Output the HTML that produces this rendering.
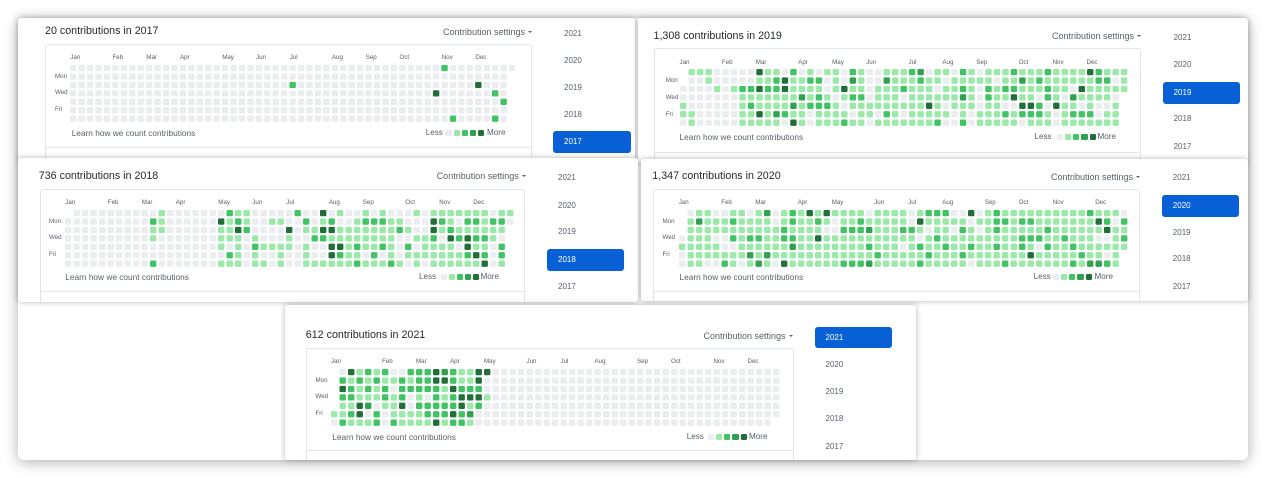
<!DOCTYPE html>
<html><head><meta charset="utf-8">
<style>
*{margin:0;padding:0;box-sizing:border-box}
html{width:1266px;height:478px;overflow:hidden}
body{width:1266px;height:478px;background:#fff;position:relative;overflow:hidden;font-family:"Liberation Sans",Arial,sans-serif}
.cv{position:absolute;left:18px;top:18px;width:1230px;height:442px;background:#fff;border-radius:6px;box-shadow:0 2px 14px rgba(0,0,0,.32)}
.p{position:absolute;background:#fff;border-radius:3px;box-shadow:0 0 6px rgba(0,0,0,.3);overflow:hidden}
.p div,.p svg{position:absolute}
.t{font-size:10.7px;line-height:12px;color:#24292e;white-space:nowrap}
.cs{font-size:9px;line-height:12px;color:#586069;white-space:nowrap}
.cs i{position:absolute;display:block;right:-7px;top:5px;width:0;height:0;border-left:2.2px solid transparent;border-right:2.2px solid transparent;border-top:2.6px solid #586069}
.bx{border:1px solid #e1e4e8;border-radius:3px}
.dv{left:0;right:0;height:1px;background:#e1e4e8}
.m,.d{font-size:6.2px;line-height:12px;color:#586069;white-space:nowrap}
.lr{font-size:8.3px;line-height:12px;color:#586069;white-space:nowrap}
.ls{font-size:8.1px;line-height:12px;color:#586069;white-space:nowrap}
.sq{width:6.3px;height:6.3px;border-radius:1.2px}
.c0{background:#ebedf0}.c1{background:#9be9a8}.c2{background:#40c463}.c3{background:#30a14e}.c4{background:#216e39}
.y{font-size:8px;line-height:12px;color:#586069;white-space:nowrap}
.b{background:#0860d6;border-radius:3px}
.yw{color:#fff}
</style></head><body>
<div class="cv"></div>

<!-- 2017 -->
<div class="p" style="left:18px;top:18px;width:617px;height:145px">
<div class="t" style="left:27px;top:7px">20 contributions in 2017</div>
<div class="cs" style="left:425px;top:7.7px">Contribution settings<i></i></div>
<div class="bx" style="left:27px;top:26.3px;width:486.7px;height:130px"><div class="dv" style="top:101.4px"></div></div>
<div class="m" style="left:52.3px;top:34.3px">Jan</div>
<div class="m" style="left:94.5px;top:34.3px">Feb</div>
<div class="m" style="left:128.3px;top:34.3px">Mar</div>
<div class="m" style="left:162px;top:34.3px">Apr</div>
<div class="m" style="left:204.2px;top:34.3px">May</div>
<div class="m" style="left:238px;top:34.3px">Jun</div>
<div class="m" style="left:271.7px;top:34.3px">Jul</div>
<div class="m" style="left:313.9px;top:34.3px">Aug</div>
<div class="m" style="left:347.7px;top:34.3px">Sep</div>
<div class="m" style="left:381.5px;top:34.3px">Oct</div>
<div class="m" style="left:423.7px;top:34.3px">Nov</div>
<div class="m" style="left:457.4px;top:34.3px">Dec</div>
<div class="d" style="left:37px;top:52.6px">Mon</div>
<div class="d" style="left:37px;top:69.4px">Wed</div>
<div class="d" style="left:37px;top:86.3px">Fri</div>
<svg id="g17" style="left:52.3px;top:47px" width="452" height="60"></svg>
<div class="lr" style="left:53.7px;top:108.7px">Learn how we count contributions</div>
<div class="ls" style="left:407.7px;top:108.7px">Less</div>
<div class="sq c0" style="left:427.3px;top:111.5px"></div>
<div class="sq c1" style="left:435.5px;top:111.5px"></div>
<div class="sq c2" style="left:443.7px;top:111.5px"></div>
<div class="sq c3" style="left:451.9px;top:111.5px"></div>
<div class="sq c4" style="left:460.1px;top:111.5px"></div>
<div class="ls" style="left:469px;top:108.7px">More</div>
<div class="y" style="left:546px;top:10px">2021</div>
<div class="y" style="left:546px;top:37px">2020</div>
<div class="y" style="left:546px;top:63.7px">2019</div>
<div class="y" style="left:546px;top:90.7px">2018</div>
<div class="b" style="left:535.3px;top:113px;width:77.4px;height:22.3px"></div>
<div class="y yw" style="left:546px;top:118px">2017</div>
</div>

<!-- 2019 -->
<div class="p" style="left:637.5px;top:18px;width:610px;height:145px">
<div class="t" style="left:16px;top:11.7px">1,308 contributions in 2019</div>
<div class="cs" style="left:414.5px;top:12px">Contribution settings<i></i></div>
<div class="bx" style="left:16px;top:30.3px;width:487.5px;height:130px"><div class="dv" style="top:102.4px"></div></div>
<div class="m" style="left:42px;top:38.7px">Jan</div>
<div class="m" style="left:84.4px;top:38.7px">Feb</div>
<div class="m" style="left:118.3px;top:38.7px">Mar</div>
<div class="m" style="left:160.7px;top:38.7px">Apr</div>
<div class="m" style="left:194.6px;top:38.7px">May</div>
<div class="m" style="left:228.6px;top:38.7px">Jun</div>
<div class="m" style="left:271px;top:38.7px">Jul</div>
<div class="m" style="left:304.9px;top:38.7px">Aug</div>
<div class="m" style="left:338.8px;top:38.7px">Sep</div>
<div class="m" style="left:381.2px;top:38.7px">Oct</div>
<div class="m" style="left:415.1px;top:38.7px">Nov</div>
<div class="m" style="left:449px;top:38.7px">Dec</div>
<div class="d" style="left:28.2px;top:56.9px">Mon</div>
<div class="d" style="left:28.2px;top:73.7px">Wed</div>
<div class="d" style="left:28.2px;top:90.6px">Fri</div>
<svg id="g19" style="left:42px;top:51.3px" width="452" height="60"></svg>
<div class="lr" style="left:42px;top:112.7px">Learn how we count contributions</div>
<div class="ls" style="left:397px;top:112.7px">Less</div>
<div class="sq c0" style="left:419.3px;top:115.5px"></div>
<div class="sq c1" style="left:427.5px;top:115.5px"></div>
<div class="sq c2" style="left:435.7px;top:115.5px"></div>
<div class="sq c3" style="left:443.9px;top:115.5px"></div>
<div class="sq c4" style="left:452.1px;top:115.5px"></div>
<div class="ls" style="left:460px;top:112.7px">More</div>
<div class="y" style="left:536.1px;top:13.7px">2021</div>
<div class="y" style="left:536.1px;top:41px">2020</div>
<div class="b" style="left:525.1px;top:64px;width:77px;height:22px"></div>
<div class="y yw" style="left:536.1px;top:68.7px">2019</div>
<div class="y" style="left:536.1px;top:95.3px">2018</div>
<div class="y" style="left:536.1px;top:122.7px">2017</div>
</div>

<!-- 2018 -->
<div class="p" style="left:18px;top:158.3px;width:620px;height:143.4px">
<div class="t" style="left:20.8px;top:11.7px">736 contributions in 2018</div>
<div class="cs" style="left:418.7px;top:11.7px">Contribution settings<i></i></div>
<div class="bx" style="left:21.6px;top:30.7px;width:485.7px;height:120px"><div class="dv" style="top:100.7px"></div></div>
<div class="m" style="left:47.3px;top:38.4px">Jan</div>
<div class="m" style="left:89.8px;top:38.4px">Feb</div>
<div class="m" style="left:123.8px;top:38.4px">Mar</div>
<div class="m" style="left:157.8px;top:38.4px">Apr</div>
<div class="m" style="left:200.3px;top:38.4px">May</div>
<div class="m" style="left:234.3px;top:38.4px">Jun</div>
<div class="m" style="left:268.3px;top:38.4px">Jul</div>
<div class="m" style="left:310.8px;top:38.4px">Aug</div>
<div class="m" style="left:344.8px;top:38.4px">Sep</div>
<div class="m" style="left:387.3px;top:38.4px">Oct</div>
<div class="m" style="left:421.3px;top:38.4px">Nov</div>
<div class="m" style="left:455.3px;top:38.4px">Dec</div>
<div class="d" style="left:31px;top:57.3px">Mon</div>
<div class="d" style="left:31px;top:74.1px">Wed</div>
<div class="d" style="left:31px;top:91px">Fri</div>
<svg id="g18" style="left:47.3px;top:51.7px" width="452" height="60"></svg>
<div class="lr" style="left:47.3px;top:113px">Learn how we count contributions</div>
<div class="ls" style="left:401px;top:113px">Less</div>
<div class="sq c0" style="left:422.8px;top:115.8px"></div>
<div class="sq c1" style="left:430.9px;top:115.8px"></div>
<div class="sq c2" style="left:439px;top:115.8px"></div>
<div class="sq c3" style="left:447.1px;top:115.8px"></div>
<div class="sq c4" style="left:455.2px;top:115.8px"></div>
<div class="ls" style="left:462.5px;top:113px">More</div>
<div class="y" style="left:540px;top:14px">2021</div>
<div class="y" style="left:540px;top:41.4px">2020</div>
<div class="y" style="left:540px;top:68px">2019</div>
<div class="b" style="left:529px;top:91px;width:76.7px;height:21.4px"></div>
<div class="y yw" style="left:540px;top:95.7px">2018</div>
<div class="y" style="left:540px;top:122.4px">2017</div>
</div>

<!-- 2020 -->
<div class="p" style="left:640.5px;top:158.5px;width:607px;height:142.2px">
<div class="t" style="left:11.8px;top:11.5px">1,347 contributions in 2020</div>
<div class="cs" style="left:410.5px;top:12.2px">Contribution settings<i></i></div>
<div class="bx" style="left:12.5px;top:30.5px;width:487.4px;height:120px"><div class="dv" style="top:100.7px"></div></div>
<div class="m" style="left:38.2px;top:38.2px">Jan</div>
<div class="m" style="left:80.7px;top:38.2px">Feb</div>
<div class="m" style="left:114.7px;top:38.2px">Mar</div>
<div class="m" style="left:157.2px;top:38.2px">Apr</div>
<div class="m" style="left:191.2px;top:38.2px">May</div>
<div class="m" style="left:233.7px;top:38.2px">Jun</div>
<div class="m" style="left:267.7px;top:38.2px">Jul</div>
<div class="m" style="left:301.7px;top:38.2px">Aug</div>
<div class="m" style="left:344.2px;top:38.2px">Sep</div>
<div class="m" style="left:378.2px;top:38.2px">Oct</div>
<div class="m" style="left:412.2px;top:38.2px">Nov</div>
<div class="m" style="left:454.7px;top:38.2px">Dec</div>
<div class="d" style="left:22px;top:57.1px">Mon</div>
<div class="d" style="left:22px;top:73.9px">Wed</div>
<div class="d" style="left:22px;top:90.8px">Fri</div>
<svg id="g20" style="left:38.2px;top:51.5px" width="452" height="60"></svg>
<div class="lr" style="left:39px;top:112.8px">Learn how we count contributions</div>
<div class="ls" style="left:393.1px;top:112.8px">Less</div>
<div class="sq c0" style="left:412px;top:115.6px"></div>
<div class="sq c1" style="left:420.3px;top:115.6px"></div>
<div class="sq c2" style="left:428.6px;top:115.6px"></div>
<div class="sq c3" style="left:436.9px;top:115.6px"></div>
<div class="sq c4" style="left:445.2px;top:115.6px"></div>
<div class="ls" style="left:454px;top:112.8px">More</div>
<div class="y" style="left:532.3px;top:13.8px">2021</div>
<div class="b" style="left:521.5px;top:36.5px;width:76.5px;height:21.7px"></div>
<div class="y yw" style="left:532.3px;top:41.2px">2020</div>
<div class="y" style="left:532.3px;top:68.2px">2019</div>
<div class="y" style="left:532.3px;top:94.8px">2018</div>
<div class="y" style="left:532.3px;top:122.2px">2017</div>
</div>

<!-- 2021 -->
<div class="p" style="left:285px;top:305px;width:631px;height:155px">
<div class="t" style="left:20.8px;top:24px">612 contributions in 2021</div>
<div class="cs" style="left:418.5px;top:25px">Contribution settings<i></i></div>
<div class="bx" style="left:20.8px;top:42.7px;width:488.2px;height:115px"><div class="dv" style="top:101.3px"></div></div>
<div class="m" style="left:46px;top:51.3px">Jan</div>
<div class="m" style="left:97px;top:51.3px">Feb</div>
<div class="m" style="left:131px;top:51.3px">Mar</div>
<div class="m" style="left:165px;top:51.3px">Apr</div>
<div class="m" style="left:199px;top:51.3px">May</div>
<div class="m" style="left:241.5px;top:51.3px">Jun</div>
<div class="m" style="left:275.5px;top:51.3px">Jul</div>
<div class="m" style="left:309.5px;top:51.3px">Aug</div>
<div class="m" style="left:352px;top:51.3px">Sep</div>
<div class="m" style="left:386px;top:51.3px">Oct</div>
<div class="m" style="left:428.5px;top:51.3px">Nov</div>
<div class="m" style="left:462.5px;top:51.3px">Dec</div>
<div class="d" style="left:30.5px;top:69.6px">Mon</div>
<div class="d" style="left:30.5px;top:86.4px">Wed</div>
<div class="d" style="left:30.5px;top:103.3px">Fri</div>
<svg id="g21" style="left:46px;top:64px" width="452" height="60"></svg>
<div class="lr" style="left:47.3px;top:125.7px">Learn how we count contributions</div>
<div class="ls" style="left:401.7px;top:125.7px">Less</div>
<div class="sq c0" style="left:422.7px;top:128.5px"></div>
<div class="sq c1" style="left:430.9px;top:128.5px"></div>
<div class="sq c2" style="left:439.1px;top:128.5px"></div>
<div class="sq c3" style="left:447.3px;top:128.5px"></div>
<div class="sq c4" style="left:455.5px;top:128.5px"></div>
<div class="ls" style="left:464px;top:125.7px">More</div>
<div class="b" style="left:530px;top:21.7px;width:77px;height:21.6px"></div>
<div class="y yw" style="left:540.5px;top:26.5px">2021</div>
<div class="y" style="left:540.5px;top:54px">2020</div>
<div class="y" style="left:540.5px;top:81.3px">2019</div>
<div class="y" style="left:540.5px;top:108px">2018</div>
<div class="y" style="left:540.5px;top:135.7px">2017</div>
</div>

<script>
var C=['#ebedf0','#9be9a8','#40c463','#30a14e','#216e39'];
function z(n){return new Array(n+1).join('0');}
function G(id,off,days,px,rows){
  var s='';
  for(var c=0;c<53;c++)for(var r=0;r<7;r++){
    var i=c*7+r-off; if(i<0||i>=days)continue;
    var ch=(rows[r]||'').charAt(c); var l='01234'.indexOf(ch); if(l<0)l=0;
    s+='<rect x="'+(c*px).toFixed(2)+'" y="'+(r*8.42).toFixed(2)+'" width="6.4" height="6.3" rx="1.2" fill="'+C[l]+'"/>';
  }
  document.getElementById(id).innerHTML=s;
}
G('g17',0,365,8.44,[
  z(44)+'2', '', z(26)+'2'+z(21)+'4', z(43)+'4'+z(6)+'2', z(51)+'2', '', z(45)+'2'+z(4)+'2'
]);
G('g18',1,365,8.5,[
  '.0000000000100000002110000020040100101000101111111011',
  '00000000002100000041210011002012001222110004210221220',
  '00000000001100000011420000401144111111121004121111110.',
  '0000000000100000001110100010022111111110011204242210.',
  '0000000000000000001010211110100441211210201111041102.',
  '0000000000000000000210100100100421102010111111124202.',
  '0000000000200000001110110100111111211121010111111401.'
]);
G('g19',2,365,8.48,[
  '.1110000041102010110210011123011021011121112111142111',
  '.0010000011241122010310031112110111110113121111112201',
  '00001012242241111014110111211101121021221112110411111',
  '0000000111111131210122011101111113102114110210311110.',
  '1000000121111312221011111111141011101100442041101001.',
  '1100000114132110111101102101111101011121222101222011.',
  '0100000111110410111211011111112002011111011101111111.'
]);
G('g20',3,366,8.5,[
  '.0110011013012141411110111101222004012111111111121110',
  '.1311121111012112101121111104111110112212211111114202',
  '.1111111111121111002223111221011021012111112111111411',
  '01110021221122114111111111110121111111112221121110012',
  '11111001111113111111112111012112112112112102112111111',
  '0111111131311111111111121111121112111111141111121101.',
  '0110021013104111111222311111211111011121111111213321.'
]);
G('g21',5,365,8.5,[
  '.041212002224321144',
  '.21212112122442114',
  '.42121202222214222',
  '.221112120102124441',
  '.11430114022222412',
  '11240201111222423',
  '02111202111141221'
]);
</script>
</body></html>
